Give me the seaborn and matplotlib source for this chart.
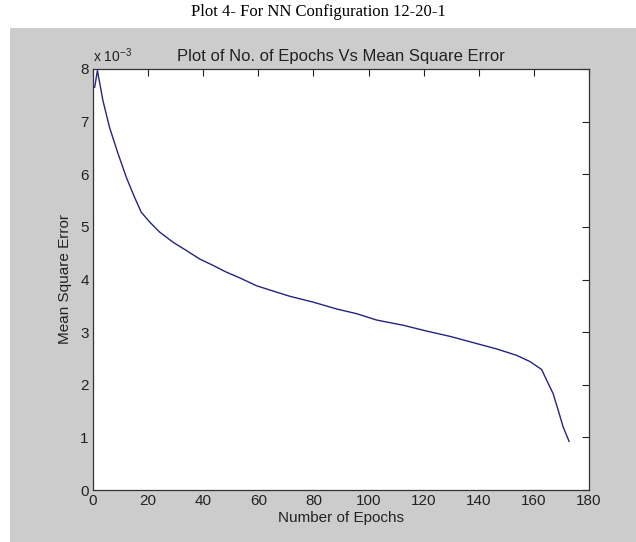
import numpy as np
import pandas as pd
import seaborn as sns
import matplotlib.pyplot as plt
from matplotlib.patches import Rectangle

# values (mse in units of 1e-3)
epochs = [0.6, 1.6, 3.6, 6.0, 9.1, 12.1, 15.1, 17.5, 20.6, 24.2, 29.0, 33.9, 38.7,
          43.5, 48.4, 53.3, 59.4, 64.2, 71.5, 79.9, 88.4, 95.7, 102.9, 112.6,
          121.1, 129.5, 138.0, 146.5, 153.7, 158.6, 162.8, 164.6, 167.0, 168.8,
          170.6, 172.8]
mse = [7.65, 7.97, 7.40, 6.89, 6.39, 5.94, 5.56, 5.28, 5.09, 4.90, 4.71, 4.55, 4.39,
       4.27, 4.14, 4.03, 3.88, 3.80, 3.68, 3.57, 3.44, 3.35, 3.23, 3.13,
       3.02, 2.92, 2.80, 2.68, 2.56, 2.44, 2.29, 2.09, 1.83, 1.52,
       1.20, 0.92]
xticks = [0, 20, 40, 60, 80, 100, 120, 140, 160, 180]
yticks = [0, 1, 2, 3, 4, 5, 6, 7, 8]

df = pd.DataFrame({"epoch": epochs, "mse": mse})

sns.set_style("white")
plt.rcParams['font.family'] = ['Liberation Sans Narrow', 'Liberation Sans', 'DejaVu Sans']
plt.rcParams['mathtext.default'] = 'regular'

fig = plt.figure(figsize=(6.36, 5.42), dpi=100)
fig.patch.set_facecolor('white')
fig.patches.append(Rectangle((10 / 636, 0), 1, (542 - 28) / 542, transform=fig.transFigure,
                             facecolor='#cccccc', edgecolor='none', zorder=-10))

ax = fig.add_axes([93 / 636, 52 / 542, 496 / 636, 421 / 542])
sns.lineplot(data=df, x="epoch", y="mse", ax=ax, color='#24247f', linewidth=1.0)

ax.set_xlim(0, 180)
ax.set_ylim(0, 8)
ax.set_xticks(xticks)
ax.set_yticks(yticks)
ax.set_xticklabels([str(t) for t in xticks])
ax.set_yticklabels([str(t) for t in yticks])
ax.tick_params(direction='in', length=5, width=0.8, top=True, right=True,
               labelsize=11, colors='#222222', pad=3)
for s in ax.spines.values():
    s.set_color('#333333')
    s.set_linewidth(0.9)

ax.set_xlabel("Number of Epochs", fontsize=11, color='#222222', labelpad=2)
ax.set_ylabel("Mean Square Error", fontsize=11, color='#222222', labelpad=6)
ax.set_title("Plot of No. of Epochs Vs Mean Square Error", fontsize=12, color='#222222', pad=6)
ax.text(0.0, 1.01, r"x 10$^{-3}$", transform=ax.transAxes, fontsize=10, color='#222222',
        ha='left', va='bottom')

fig.text(0.5, 1 - 12 / 542, "Plot 4- For NN Configuration 12-20-1", family='Liberation Serif',
         fontsize=12, ha='center', va='center', color='black')

fig.savefig("out.png", dpi=100)
